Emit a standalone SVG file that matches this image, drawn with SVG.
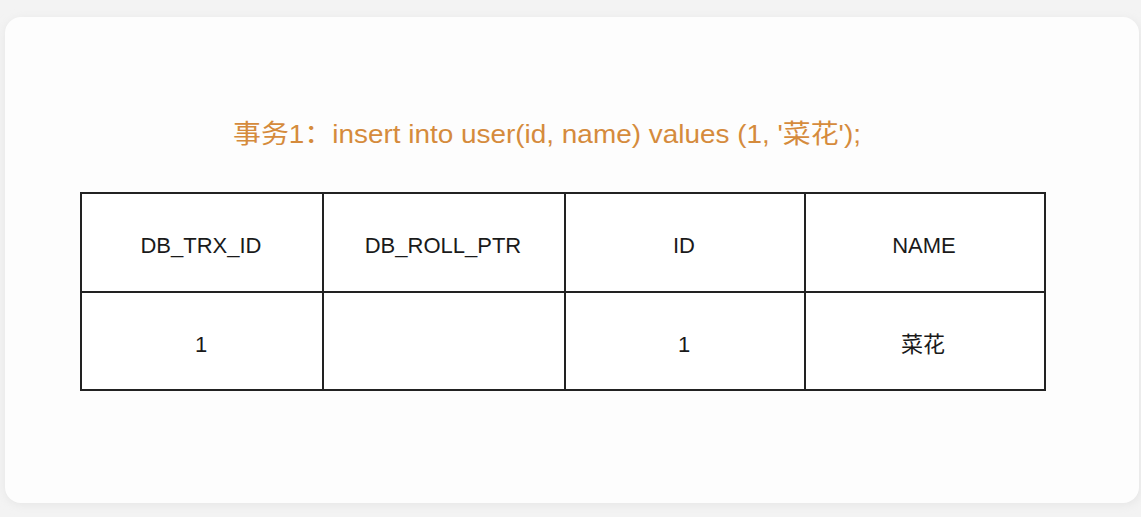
<svg xmlns="http://www.w3.org/2000/svg" width="1141" height="517" viewBox="0 0 1141 517">
<defs>
<filter id="sh" x="-5%" y="-5%" width="110%" height="110%">
<feGaussianBlur stdDeviation="4"/>
</filter>
</defs>
<style>
.cell{font-family:"Liberation Sans","Noto Sans CJK SC",sans-serif;font-size:22px;fill:#1a1a1a;text-anchor:middle}
.ln{stroke:#222;stroke-width:2;fill:none;stroke-linecap:square}
.title{font-family:"Liberation Sans","Noto Sans CJK SC",sans-serif;font-size:26px;fill:#d58b3c;text-anchor:middle}
</style>
<rect width="1141" height="517" fill="#f3f3f3"/>
<rect x="5" y="19" width="1136" height="486" rx="16" fill="#e6e6e6" filter="url(#sh)"/>
<rect x="5" y="17" width="1134" height="486" rx="16" fill="#fdfdfd"/>
<g id="title">
<text class="title" x="547" y="143" textLength="628" lengthAdjust="spacingAndGlyphs">事务1：insert into user(id, name) values (1, '菜花');</text>
</g>
<g id="table">
<rect x="81" y="193" width="964" height="197" fill="#fff"/>
<path class="ln" d="M81 193 L1045 193 M81 292 L1045 292 M81 390 L1045 390 M81 193 L81 390 M323 193 L323 390 M565 193 L565 390 M805 193 L805 390 M1045 193 L1045 390"/>
</g>
<g id="header">
<text class="cell" x="201" y="253">DB_TRX_ID</text>
<text class="cell" x="443" y="253">DB_ROLL_PTR</text>
<text class="cell" x="684" y="253">ID</text>
<text class="cell" x="924" y="253">NAME</text>
</g>
<g id="row1">
<text class="cell" x="201" y="352">1</text>
<text class="cell" x="684" y="352">1</text>
<text class="cell" x="923" y="352">菜花</text>
</g>
</svg>
